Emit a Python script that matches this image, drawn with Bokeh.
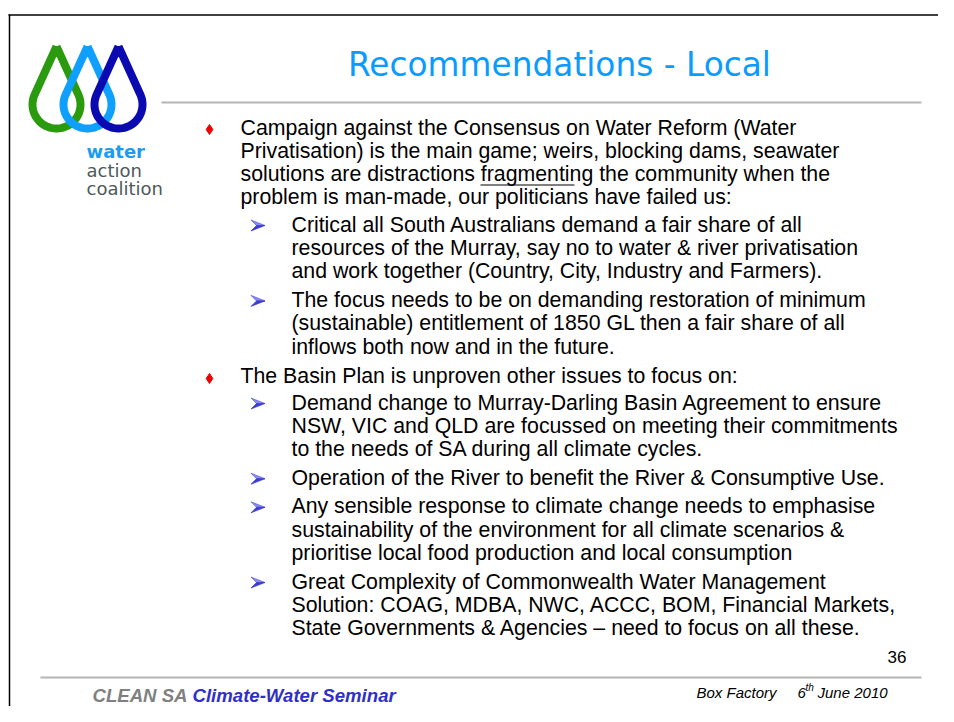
import numpy as np
from bokeh.plotting import figure
from bokeh.models import Range1d
from bokeh.core.properties import value
from bokeh.embed import file_html
from bokeh.resources import INLINE

# ---------------- content ----------------
title_text = "Recommendations - Local"

bullet1_lines = [
    "Campaign against the Consensus on Water Reform (Water",
    "Privatisation) is the main game; weirs, blocking dams, seawater",
    "solutions are distractions fragmenting the community when the",
    "problem is man-made, our politicians have failed us:",
]
sub1_lines = [
    ["Critical all South Australians demand a fair share of all",
     "resources of the Murray, say no to water & river privatisation",
     "and work together (Country, City, Industry and Farmers)."],
    ["The focus needs to be on demanding restoration of minimum",
     "(sustainable) entitlement of 1850 GL then a fair share of all",
     "inflows both now and in the future."],
]
bullet2_lines = ["The Basin Plan is unproven other issues to focus on:"]
sub2_lines = [
    ["Demand change to Murray-Darling Basin Agreement to ensure",
     "NSW, VIC and QLD are focussed on meeting their commitments",
     "to the needs of SA during all climate cycles."],
    ["Operation of the River to benefit the River & Consumptive Use."],
    ["Any sensible response to climate change needs to emphasise",
     "sustainability of the environment for all climate scenarios &",
     "prioritise local food production and local consumption"],
    ["Great Complexity of Commonwealth Water Management",
     "Solution: COAG, MDBA, NWC, ACCC, BOM, Financial Markets,",
     "State Governments & Agencies \u2013 need to focus on all these."],
]
logo_words = ["water", "action", "coalition"]
logo_colors = ["#2a9a0e", "#0fa0ff", "#0a0ab0"]
logo_word_colors = ["#1c9cf0", "#4d5a5a", "#4d5a5a"]
page_number = "36"
footer_left_a = "CLEAN SA"
footer_left_b = "Climate-Water Seminar"
footer_right_a = "Box Factory"
footer_right_day = "6"
footer_right_sup = "th"
footer_right_b = "June 2010"

# ---------------- figure (coordinates = picture pixels) ----------------
W, H = 938, 706
p = figure(width=W, height=H, x_range=Range1d(0, W), y_range=Range1d(H, 0),
           output_backend="svg", toolbar_location=None, min_border=0)
p.axis.visible = False
p.grid.visible = False
p.outline_line_color = None
p.background_fill_color = "white"

BODY = value("Liberation Sans")

# slide frame
p.segment(x0=[8, 9], y0=[14.5, 14], x1=[W, 9], y1=[14.5, H], line_color="black", line_width=1.5)
# title rule & footer rule
p.segment(x0=[161, 40], y0=[102, 677], x1=[921, 921], y1=[102, 677], line_color="#b4b4b4", line_width=2)

# title
p.text(x=[559], y=[64], text=[title_text], text_font=value("DejaVu Sans"), text_font_size="32.8px",
       text_color="#0a9bff", text_align="center", text_baseline="middle")

# logo drops (outline drawn as thick path: tip + circular bottom)
r_mid = 24.0
tip_y = 46.0
cen_y = 104.0
drop_cx = [56.0, 87.0, 118.0]
for cx, col in zip(drop_cx, logo_colors):
    a = np.arcsin(r_mid / (cen_y - tip_y))
    t = np.linspace(-a, np.pi + a, 60)
    xs = [cx] + list(cx + r_mid * np.cos(t)) + [cx]
    ys = [tip_y] + list(cen_y + r_mid * np.sin(t)) + [tip_y]
    p.line(xs, ys, line_color=col, line_width=8, line_join="miter")

p.text(x=[86] * 3, y=[151, 170, 188], text=logo_words, text_font=value("DejaVu Sans"),
       text_font_size="18px", text_color=logo_word_colors, text_baseline="middle",
       text_font_style=["bold", "normal", "normal"])

# body text
LH = 23.3
fs = "21.3px"
ys_b1 = [127 + i * LH for i in range(len(bullet1_lines))]
p.text(x=[240] * len(ys_b1), y=ys_b1, text=bullet1_lines, text_font=BODY, text_font_size=fs,
       text_color="black", text_baseline="middle")
bul_x, bul_y = [209], [ys_b1[0] + 2]

arrow_y = []
y = 224
for grp in sub1_lines:
    ys = [y + i * LH for i in range(len(grp))]
    p.text(x=[291] * len(grp), y=ys, text=grp, text_font=BODY, text_font_size=fs,
           text_color="black", text_baseline="middle")
    arrow_y.append(ys[0])
    y = ys[-1] + LH + 5.5

y_b2 = 375
p.text(x=[240], y=[y_b2], text=bullet2_lines, text_font=BODY, text_font_size=fs,
       text_color="black", text_baseline="middle")
bul_x.append(209)
bul_y.append(y_b2 + 3)

y = 402
for grp in sub2_lines:
    ys = [y + i * LH for i in range(len(grp))]
    p.text(x=[291] * len(grp), y=ys, text=grp, text_font=BODY, text_font_size=fs,
           text_color="black", text_baseline="middle")
    arrow_y.append(ys[0])
    y = ys[-1] + LH + 5.3

# underline under "fragmenting"
p.segment(x0=[480], y0=[184.5], x1=[574], y1=[184.5], line_color="black", line_width=1.2)

# bullets: red diamonds
p.scatter(bul_x, bul_y, marker="diamond", size=10, color="#ee0000")
# arrowhead bullets (two-tone arrowhead like the Wingdings bullet)
ax = 257.5
top_x, top_y, bot_x, bot_y = [], [], [], []
for ay in arrow_y:
    cy = ay + 1
    top_x.append([ax + 7, ax - 7, ax - 1.5])
    top_y.append([cy, cy - 5.5, cy])
    bot_x.append([ax + 7, ax - 1.5, ax - 7])
    bot_y.append([cy, cy, cy + 5.5])
p.patches(top_x, top_y, fill_color="#8c8cf2", line_color="#5a5ae0", line_width=0.7)
p.patches(bot_x, bot_y, fill_color="#3c3cd0", line_color="#3c3cd0", line_width=0.7)

# page number
p.text(x=[906], y=[656], text=[page_number], text_font=BODY, text_font_size="17px",
       text_color="black", text_align="right", text_baseline="middle")

# footer
p.text(x=[92], y=[695], text=[footer_left_a], text_font=BODY, text_font_size="18.6px",
       text_font_style="bold italic", text_color="#808080", text_baseline="middle")
p.text(x=[192], y=[695], text=[footer_left_b], text_font=BODY, text_font_size="18.6px",
       text_font_style="bold italic", text_color="#3030c8", text_baseline="middle")
p.text(x=[696, 797, 817], y=[692, 692, 692], text=[footer_right_a, footer_right_day, footer_right_b],
       text_font=BODY, text_font_size="15px",
       text_font_style="italic", text_color="black", text_baseline="middle")
p.text(x=[805], y=[687], text=[footer_right_sup], text_font=BODY, text_font_size="10px",
       text_font_style="italic", text_color="black", text_baseline="middle")

open("out.html", "w").write(file_html(p, INLINE))
